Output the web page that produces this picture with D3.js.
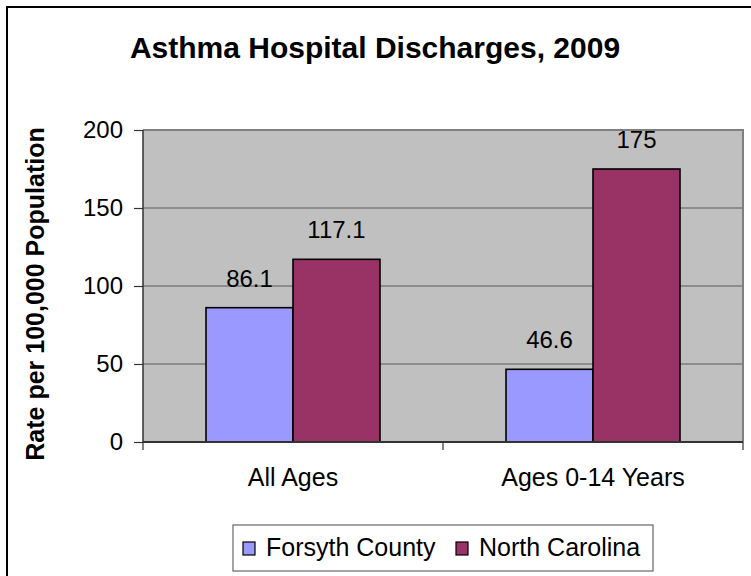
<!DOCTYPE html>
<html>
<head>
<meta charset="utf-8">
<script src="https://cdn.jsdelivr.net/npm/d3@7/dist/d3.min.js"></script>
<style>
  html, body { margin: 0; padding: 0; background: #fff; }
  svg { display: block; font-family: "Liberation Sans", Arial, sans-serif; }
</style>
</head>
<body>
<svg id="chart" width="751" height="576"></svg>
<script>
const title = "Asthma Hospital Discharges, 2009";
const yLabel = "Rate per 100,000 Population";
const categories = ["All Ages", "Ages 0-14 Years"];
const seriesNames = ["Forsyth County", "North Carolina"];
const forsythValues = [86.1, 46.6];
const northCarolinaValues = [117.1, 175];
const yTicks = [0, 50, 100, 150, 200];
const seriesColors = ["#9999FF", "#993366"];

const seriesValues = [forsythValues, northCarolinaValues];
const data = categories.map((c, i) => ({
  category: c,
  values: seriesNames.map((s, j) => ({ series: s, value: seriesValues[j][i], color: seriesColors[j] }))
}));

const svg = d3.select("#chart");
const plot = { left: 143, right: 743, top: 130, bottom: 442 };

// outer frame
svg.append("rect")
  .attr("x", 7).attr("y", 7).attr("width", 800).attr("height", 620)
  .attr("fill", "#fff").attr("stroke", "#000").attr("stroke-width", 2);

// title
svg.append("text")
  .attr("x", 375).attr("y", 58)
  .attr("text-anchor", "middle")
  .attr("font-size", 30).attr("font-weight", "bold")
  .text(title);

const y = d3.scaleLinear().domain([0, 200]).range([plot.bottom, plot.top]);
const x0 = d3.scaleBand().domain(categories).range([plot.left, plot.right]).padding(0);
const groupWidth = 174;
const x1 = d3.scaleBand().domain(seriesNames)
  .range([(x0.bandwidth() - groupWidth) / 2, (x0.bandwidth() + groupWidth) / 2]).padding(0);

// plot background
svg.append("rect")
  .attr("x", plot.left).attr("y", plot.top)
  .attr("width", plot.right - plot.left).attr("height", plot.bottom - plot.top)
  .attr("fill", "#C0C0C0");

// gridlines
svg.append("g").selectAll("line")
  .data(yTicks.filter(t => t > 0 && t < 200))
  .join("line")
  .attr("x1", plot.left).attr("x2", plot.right)
  .attr("y1", d => y(d)).attr("y2", d => y(d))
  .attr("stroke", "#5a5a5a").attr("stroke-width", 1);

// plot frame top/right
svg.append("path")
  .attr("d", `M${plot.left},${y(200)}H${plot.right}V${plot.bottom}`)
  .attr("fill", "none").attr("stroke", "#808080").attr("stroke-width", 2);

// bars
const groups = svg.append("g").selectAll("g")
  .data(data).join("g")
  .attr("transform", d => `translate(${x0(d.category)},0)`);

groups.selectAll("rect")
  .data(d => d.values).join("rect")
  .attr("x", d => x1(d.series))
  .attr("width", x1.bandwidth())
  .attr("y", d => y(d.value))
  .attr("height", d => y(0) - y(d.value))
  .attr("fill", d => d.color)
  .attr("stroke", "#000").attr("stroke-width", 1.6);

groups.selectAll("text")
  .data(d => d.values).join("text")
  .attr("x", d => x1(d.series) + x1.bandwidth() / 2)
  .attr("y", d => y(d.value) - 21)
  .attr("text-anchor", "middle")
  .attr("font-size", 24)
  .text(d => String(d.value));

// y axis
const yAxis = d3.axisLeft(y).tickValues(yTicks).tickSize(9).tickPadding(11).tickFormat(d3.format("d"));
const yg = svg.append("g").attr("transform", `translate(${plot.left},0)`).call(yAxis);
yg.select(".domain").remove();
yg.selectAll(".tick line").attr("stroke", "#333").attr("stroke-width", 1.2);
yg.selectAll(".tick text").attr("font-size", 24).attr("fill", "#000")
  .attr("font-family", "'Liberation Sans', Arial, sans-serif");

// x axis (category labels)
const xAxis = d3.axisBottom(x0).tickSize(0).tickPadding(26);
const xg = svg.append("g").attr("transform", `translate(0,${plot.bottom})`).call(xAxis);
xg.select(".domain").remove();
xg.selectAll(".tick text").attr("font-size", 25).attr("fill", "#000")
  .attr("font-family", "'Liberation Sans', Arial, sans-serif");

// category boundary ticks
const boundaries = [plot.left].concat(categories.map(c => x0(c) + x0.bandwidth()));
svg.append("g").selectAll("line").data(boundaries).join("line")
  .attr("x1", d => d).attr("x2", d => d)
  .attr("y1", plot.bottom).attr("y2", plot.bottom + 8)
  .attr("stroke", "#333").attr("stroke-width", 1.2);

// axis lines
svg.append("line")
  .attr("x1", plot.left).attr("x2", plot.left)
  .attr("y1", plot.top).attr("y2", plot.bottom)
  .attr("stroke", "#333").attr("stroke-width", 1.5);
svg.append("line")
  .attr("x1", plot.left).attr("x2", plot.right)
  .attr("y1", plot.bottom).attr("y2", plot.bottom)
  .attr("stroke", "#333").attr("stroke-width", 2);

// y label
svg.append("text")
  .attr("transform", `translate(44,${(plot.top + plot.bottom) / 2 + 8}) rotate(-90)`)
  .attr("text-anchor", "middle")
  .attr("font-size", 25).attr("font-weight", "bold")
  .text(yLabel);

// legend
const legend = svg.append("g");
legend.append("rect")
  .attr("x", 233).attr("y", 525).attr("width", 420).attr("height", 46)
  .attr("fill", "#fff").attr("stroke", "#666").attr("stroke-width", 1.2);
const legendX = [243, 456];
const items = legend.selectAll("g.item").data(seriesNames).join("g").attr("class", "item")
  .attr("transform", (d, i) => `translate(${legendX[i]},0)`);
items.append("rect")
  .attr("x", 0).attr("y", 542).attr("width", 12).attr("height", 13)
  .attr("fill", (d, i) => seriesColors[i]).attr("stroke", "#000").attr("stroke-width", 1.2);
items.append("text")
  .attr("x", 23).attr("y", 556)
  .attr("font-size", 25)
  .text(d => d);
</script>
</body>
</html>
